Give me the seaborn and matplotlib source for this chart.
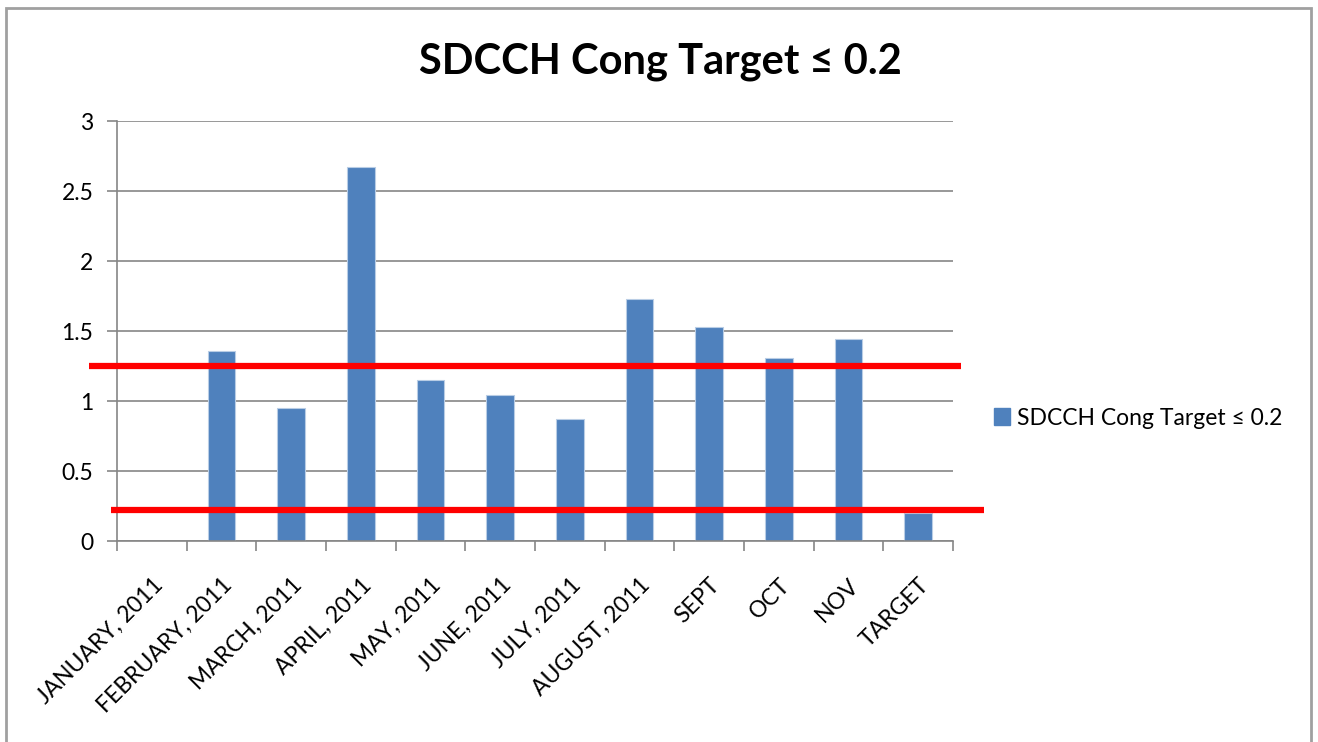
import numpy as np
import pandas as pd
import matplotlib
matplotlib.use('Agg')
import matplotlib.pyplot as plt
import matplotlib.patches as mpatches
import seaborn as sns

# Chart data
months = ['JANUARY, 2011', 'FEBRUARY, 2011', 'MARCH, 2011', 'APRIL, 2011', 'MAY, 2011',
          'JUNE, 2011', 'JULY, 2011', 'AUGUST, 2011', 'SEPT', 'OCT', 'NOV', 'TARGET']
cong = [0.0, 1.36, 0.95, 2.67, 1.15, 1.04, 0.87, 1.73, 1.53, 1.31, 1.44, 0.2]
series_name = 'SDCCH Cong Target \u2264 0.2'
y_ticks = [0, 0.5, 1, 1.5, 2, 2.5, 3]
y_tick_labels = ['0', '0.5', '1', '1.5', '2', '2.5', '3']

# Red marker lines drawn over the chart (level, x start, x end in category units)
red_levels = [1.25, 0.22]
red_x_from = [-0.9, -0.59]
red_x_to = [11.61, 11.94]

df = pd.DataFrame({'month': months, 'value': cong})

sns.set_style('white')
plt.rcParams['font.family'] = ['Lato', 'DejaVu Sans']
plt.rcParams['text.color'] = 'black'
plt.rcParams['xtick.color'] = 'black'
plt.rcParams['ytick.color'] = 'black'

bar_color = '#4F81BD'
grid_color = '#868686'

fig = plt.figure(figsize=(13.18, 7.42), dpi=100)
ax = fig.add_axes([117 / 1318, 1 - 541 / 742, (953 - 117) / 1318, (541 - 121) / 742])

sns.barplot(data=df, x='month', y='value', color=bar_color, width=0.4,
            edgecolor='#B9CDE5', linewidth=0.8, saturation=1, ax=ax)

ax.set_xlim(-0.5, len(months) - 0.5)
ax.set_ylim(0, 3)
ax.set_yticks(y_ticks)
ax.set_yticklabels(y_tick_labels, fontsize=16.5)
ax.yaxis.grid(True, color=grid_color, linewidth=1.2)
ax.set_axisbelow(True)
ax.set_xlabel('')
ax.set_ylabel('')

# category labels at the centres, tick marks at the boundaries (Excel style)
ax.set_xticks(np.arange(len(months)))
ax.set_xticklabels(months, rotation=45, ha='right', rotation_mode='anchor', fontsize=16.5)
ax.set_xticks(np.arange(len(months) + 1) - 0.5, minor=True)
ax.tick_params(axis='x', which='major', bottom=True, length=0, pad=24)
ax.tick_params(axis='x', which='minor', bottom=True, length=7, color=grid_color, width=1.2)
ax.tick_params(axis='y', left=True, length=7, color=grid_color, width=1.2, pad=10)

for side in ['top', 'right']:
    ax.spines[side].set_visible(False)
for side in ['left', 'bottom']:
    ax.spines[side].set_color(grid_color)
    ax.spines[side].set_linewidth(1.2)

# red horizontal lines
for lvl, x0, x1 in zip(red_levels, red_x_from, red_x_to):
    ax.plot([x0, x1], [lvl, lvl], color='#FF0000', linewidth=4.5, clip_on=False, zorder=5,
            solid_capstyle='butt')

fig.suptitle(series_name, fontsize=30, fontweight='bold', x=660 / 1318, y=1 - 62 / 742,
             va='center', color='black')

handles = [mpatches.Patch(color=bar_color, label=series_name)]
fig.legend(handles=handles, loc='center left', bbox_to_anchor=(994 / 1318, 1 - 418 / 742),
           frameon=False, fontsize=16.5, handlelength=0.7, handleheight=0.7,
           handletextpad=0.3, borderpad=0, borderaxespad=0)

# outer chart frame
frame = mpatches.Rectangle((6 / 1318, -0.05), (1311 - 6) / 1318, 1.05 - 8 / 742,
                           transform=fig.transFigure, fill=False,
                           edgecolor='#A0A0A0', linewidth=2, clip_on=False)
fig.patches.append(frame)

fig.savefig('out.png', dpi=100)
